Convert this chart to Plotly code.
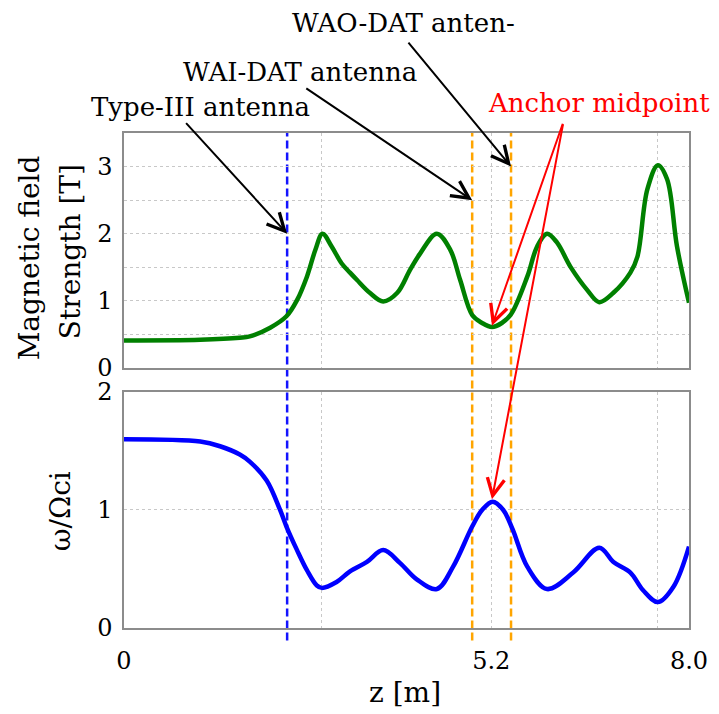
import plotly.graph_objects as go
from plotly.subplots import make_subplots

# ---- data ----
z_B = [0.0, 1.08, 1.64, 1.78, 2.07, 2.30, 2.45, 2.59, 2.71, 2.81, 2.94, 3.08, 3.20, 3.30, 3.48, 3.67,
       3.87, 4.05, 4.19, 4.43, 4.62, 4.76, 4.93, 5.07, 5.21, 5.35, 5.48, 5.71, 5.85, 5.99,
       6.13, 6.32, 6.56, 6.73, 6.93, 7.17, 7.27, 7.41, 7.56, 7.69, 7.83, 8.0]
B = [0.41, 0.42, 0.45, 0.47, 0.60, 0.77, 1.01, 1.36, 1.76, 2.0, 1.81, 1.56, 1.42, 1.31, 1.12, 0.99,
     1.12, 1.46, 1.70, 2.0, 1.76, 1.31, 0.79, 0.67, 0.61, 0.67, 0.80, 1.36, 1.81, 2.0,
     1.87, 1.51, 1.16, 0.98, 1.12, 1.42, 1.66, 2.66, 3.02, 2.81, 1.81, 0.97]

z_w = [0.0, 1.08, 1.36, 1.64, 1.78, 2.02, 2.21, 2.30, 2.45, 2.59, 2.73, 2.80, 3.01, 3.20, 3.44, 3.67, 3.91,
       4.15, 4.43, 4.66, 4.93, 5.07, 5.22, 5.37, 5.50, 5.71, 5.99, 6.36, 6.73, 6.93, 7.17,
       7.35, 7.56, 7.78, 8.0]
omega = [1.60, 1.58, 1.54, 1.47, 1.41, 1.25, 1.00, 0.86, 0.66, 0.49, 0.36, 0.34, 0.39, 0.48, 0.56, 0.66, 0.55,
         0.41, 0.33, 0.52, 0.86, 1.00, 1.07, 1.00, 0.84, 0.52, 0.33, 0.47, 0.68, 0.56, 0.47,
         0.32, 0.22, 0.35, 0.69]

type3_z = 2.31
wai_z = 4.93
wao_z = 5.48
mid_z = 5.21
grid_z = [0, 2.8, 5.2, 7.56, 8.0]
grid_ztext = ["0", "", "5.2", "", "8.0"]
top_ticks = [0, 0.5, 1, 1.5, 2, 2.5, 3, 3.5]
top_ticktext = ["0", "", "1", "", "2", "", "3", ""]
bot_ticks = [0, 1, 2]
bot_ticktext = ["0", "1", "2"]

FONT = "DejaVu Serif"
FS_LAB = 26
FS_TICK = 24
FS_TIT = 28
AXC = "#8c8c8c"
GRC = "#c8c8c8"

fig = make_subplots(rows=2, cols=1, shared_xaxes=False, vertical_spacing=0.0)

fig.add_trace(go.Scatter(x=z_B, y=B, mode="lines",
                         line=dict(color="rgb(0,128,0)", width=4.5, shape="spline", smoothing=1.0),
                         showlegend=False), row=1, col=1)
fig.add_trace(go.Scatter(x=z_w, y=omega, mode="lines",
                         line=dict(color="rgb(0,0,255)", width=4.5, shape="spline", smoothing=1.0),
                         showlegend=False), row=2, col=1)

h_top = [0.5253, 1.0]
h_bot = [0.0, 0.4768]

xcommon = dict(range=[0, 8], tickvals=grid_z, showgrid=True, gridcolor=GRC, griddash="dot", gridwidth=1,
               showline=True, linecolor=AXC, linewidth=1.5, mirror=True, zeroline=False, ticks="",
               automargin=False, tickfont=dict(family=FONT, size=FS_TICK, color="black"))
ycommon = dict(showgrid=True, gridcolor=GRC, griddash="dot", showline=True, linecolor=AXC, linewidth=1.5,
               mirror=True, zeroline=False, ticks="", automargin=False, ticklabelstandoff=5,
               tickfont=dict(family=FONT, size=FS_TICK, color="black"))
fig.update_layout(
    xaxis=dict(**xcommon, ticktext=["" for _ in grid_z], anchor="y"),
    xaxis2=dict(**xcommon, ticktext=grid_ztext, anchor="y2", ticklabelstandoff=10),
    yaxis=dict(**ycommon, domain=h_top, range=[0, 3.5], tickvals=top_ticks, ticktext=top_ticktext),
    yaxis2=dict(**ycommon, domain=h_bot, range=[0, 2], tickvals=bot_ticks, ticktext=bot_ticktext),
    width=719, height=714,
    margin=dict(l=124, r=30, t=133, b=86),
    plot_bgcolor="white", paper_bgcolor="white",
    font=dict(family=FONT, size=FS_LAB, color="black"),
)

for zz, col in [(type3_z, "rgb(20,20,255)"), (wai_z, "rgb(255,165,0)"), (wao_z, "rgb(255,165,0)")]:
    fig.add_shape(type="line", xref="x", yref="paper", x0=zz, x1=zz, y0=-0.025, y1=1.0,
                  line=dict(color=col, width=2.5, dash="8px,4px"), layer="below")

anns = []
def label(x, y, text, color="black"):
    return dict(xref="paper", yref="paper", x=x, y=y, text=text, showarrow=False,
                xanchor="center", yanchor="middle", font=dict(family=FONT, size=FS_LAB, color=color))

anns.append(label(0.136, 1.053, "Type-III antenna"))
anns.append(label(0.312, 1.123, "WAI-DAT antenna"))
anns.append(label(0.494, 1.222, "WAO-DAT anten-"))
anns.append(label(0.841, 1.061, "Anchor midpoint", "red"))

def arrow(x, y, ax, ay, color, yref="y"):
    return dict(xref="x", yref=yref, x=x, y=y, axref="x", ayref=yref, ax=ax, ay=ay, text="",
                showarrow=True, arrowhead=5, arrowsize=1.7, arrowwidth=2, arrowcolor=color)

anns.append(arrow(type3_z, 2.0, 0.86, 3.67, "black"))
anns.append(arrow(wai_z, 2.5, 2.56, 4.18, "black"))
anns.append(arrow(wao_z, 3.0, 4.01, 4.87, "black"))
anns.append(arrow(mid_z, 0.63, 6.22, 3.66, "red"))
anns.append(arrow(mid_z, 1.09, 6.22, 4.28, "red", yref="y2"))

anns.append(dict(xref="paper", yref="paper", x=-0.168, y=0.747, text="Magnetic field", textangle=-90,
                 showarrow=False, xanchor="center", yanchor="middle", font=dict(family=FONT, size=FS_TIT)))
anns.append(dict(xref="paper", yref="paper", x=-0.095, y=0.76, text="Strength [T]", textangle=-90,
                 showarrow=False, xanchor="center", yanchor="middle", font=dict(family=FONT, size=FS_TIT)))
anns.append(dict(xref="paper", yref="paper", x=-0.113, y=0.236, text="ω/Ωci", textangle=-90,
                 showarrow=False, xanchor="center", yanchor="middle", font=dict(family=FONT, size=FS_TIT)))
anns.append(dict(xref="paper", yref="paper", x=0.497, y=-0.13, text="z [m]",
                 showarrow=False, xanchor="center", yanchor="middle", font=dict(family=FONT, size=FS_TIT)))

fig.update_layout(annotations=anns)
fig.write_html("out.html")
